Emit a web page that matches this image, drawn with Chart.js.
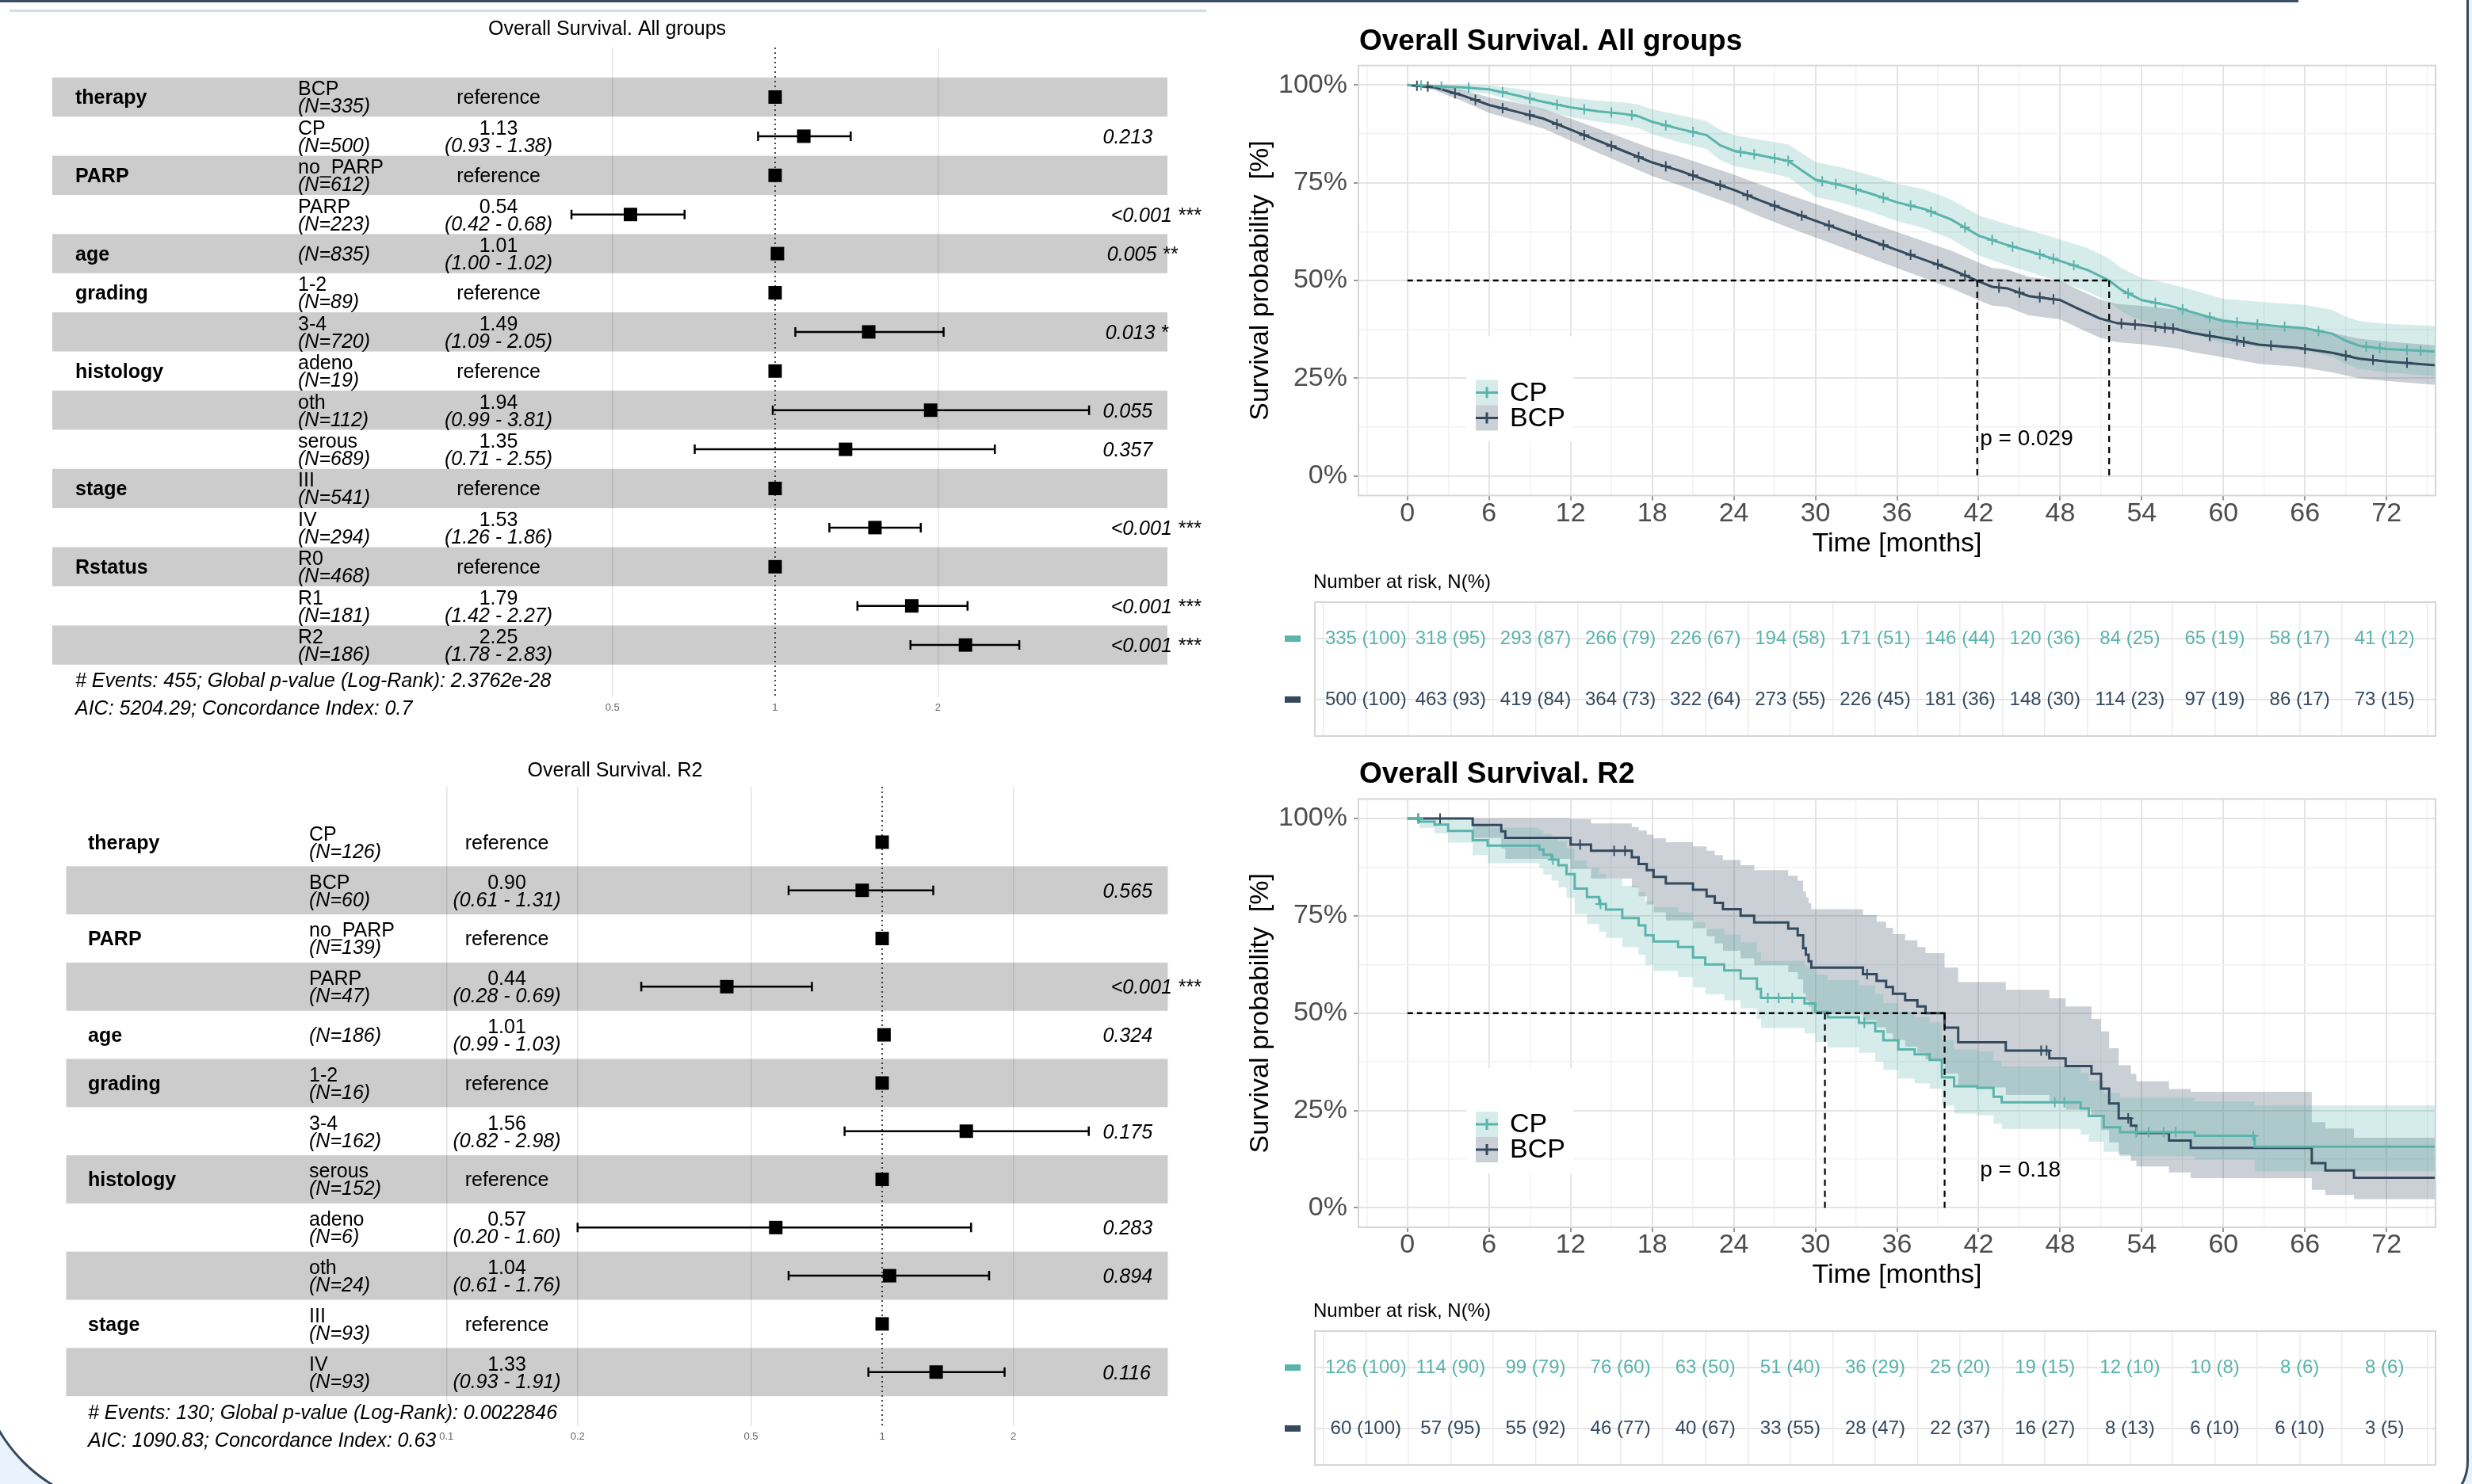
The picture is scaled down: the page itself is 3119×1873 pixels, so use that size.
<!DOCTYPE html>
<html><head><meta charset="utf-8">
<script src="https://cdn.jsdelivr.net/npm/chart.js"></script>
<style>
html,body{margin:0;padding:0;}
body{width:3119px;height:1873px;overflow:hidden;background:#e9f2fa;position:relative;}
#card{position:absolute;left:-30px;top:-10px;width:3145px;height:1915px;box-sizing:border-box;background:#fff;border:3px solid #34495e;border-top:none;border-radius:0 0 60px 200px;}
.topline{position:absolute;left:0;top:0;width:2900px;height:3px;background:#3b4f63;}
.subline{position:absolute;left:12px;top:12px;width:1510px;height:3px;background:#d3deea;}
canvas{position:absolute;}
</style></head>
<body>
<div id="card"></div><div class="topline"></div><div class="subline"></div>
<canvas id="forestAll" width="1540" height="930" style="left:0;top:0"></canvas>
<canvas id="forestR2" width="1540" height="943" style="left:0;top:930px"></canvas>
<canvas id="riskAll" width="1559" height="240" style="left:1560px;top:700px"></canvas>
<canvas id="riskR2" width="1559" height="253" style="left:1560px;top:1620px"></canvas>
<canvas id="kmAll" width="1559" height="720" style="left:1560px;top:0"></canvas>
<canvas id="kmR2" width="1559" height="710" style="left:1560px;top:930px"></canvas>
<script>
// ===================== DATA =====================
// Forest plot: Overall Survival. All groups
const fAllTitle  = 'Overall Survival. All groups';
const fAllVars   = ['therapy','','PARP','','age','grading','','histology','','','stage','','Rstatus','',''];
const fAllLevels = ['BCP','CP','no_PARP','PARP','','1-2','3-4','adeno','oth','serous','III','IV','R0','R1','R2'];
const fAllN      = [335,500,612,223,835,89,720,19,112,689,541,294,468,181,186];
const fAllHR     = [1,1.13,1,0.54,1.01,1,1.49,1,1.94,1.35,1,1.53,1,1.79,2.25];
const fAllLo     = [null,0.93,null,0.42,1.00,null,1.09,null,0.99,0.71,null,1.26,null,1.42,1.78];
const fAllHi     = [null,1.38,null,0.68,1.02,null,2.05,null,3.81,2.55,null,1.86,null,2.27,2.83];
const fAllP      = ['','0.213','','<0.001 ***','0.005 **','','0.013 *','','0.055','0.357','','<0.001 ***','','<0.001 ***','<0.001 ***'];
const fAllTicks  = [0.5,1,2];
const fAllNotes  = ['# Events: 455; Global p-value (Log-Rank): 2.3762e-28','AIC: 5204.29; Concordance Index: 0.7'];

// Forest plot: Overall Survival. R2
const fR2Title  = 'Overall Survival. R2';
const fR2Vars   = ['therapy','','PARP','','age','grading','','histology','','','stage',''];
const fR2Levels = ['CP','BCP','no_PARP','PARP','','1-2','3-4','serous','adeno','oth','III','IV'];
const fR2N      = [126,60,139,47,186,16,162,152,6,24,93,93];
const fR2HR     = [1,0.90,1,0.44,1.01,1,1.56,1,0.57,1.04,1,1.33];
const fR2Lo     = [null,0.61,null,0.28,0.99,null,0.82,null,0.20,0.61,null,0.93];
const fR2Hi     = [null,1.31,null,0.69,1.03,null,2.98,null,1.60,1.76,null,1.91];
const fR2P      = ['','0.565','','<0.001 ***','0.324','','0.175','','0.283','0.894','','0.116'];
const fR2Ticks  = [0.1,0.2,0.5,1,2];
const fR2Notes  = ['# Events: 130; Global p-value (Log-Rank): 0.0022846','AIC: 1090.83; Concordance Index: 0.63'];

// KM: Overall Survival. All groups (time in months, survival in %)
const kmAllTitle = 'Overall Survival. All groups';
const kmAllCP_t  = [0,2,4,6,8,10,12,14,16,17,18,20,22,23,24,26,28,29,30,32,34,36,38,40,42,44,46,48,50,51.6,52.5,54,56,58,60,62,64,66,68,69,70,72,75.6];
const kmAllCP_s  = [100,99.7,99.4,98.9,97.4,95.7,94.3,93.3,92.6,92.0,90.6,88.8,87.2,84.6,83.2,82.0,80.6,78.2,75.8,74.3,72.3,70.0,68.3,65.6,61.5,59.2,57.2,55.0,52.7,50.0,47.6,45.0,43.6,41.6,39.6,39.0,38.3,37.8,36.4,34.6,33.3,32.5,31.8];
const kmAllCP_lo = [100,99.1,98.5,97.7,95.7,93.5,91.8,90.6,89.7,89.0,87.4,85.4,83.6,80.8,79.3,78.0,76.4,73.9,71.4,69.8,67.7,65.2,63.4,60.6,56.4,54.0,51.9,49.6,47.2,44.5,42.1,39.5,38.0,36.0,34.0,33.3,32.5,32.0,30.5,28.7,27.4,26.5,25.6];
const kmAllCP_hi = [100,100,100,99.9,99.1,97.9,96.8,96.0,95.5,95.0,93.8,92.3,90.8,88.5,87.2,86.0,84.8,82.6,80.3,78.9,77.0,74.8,73.3,70.7,66.7,64.5,62.6,60.5,58.3,55.6,53.2,50.6,49.2,47.3,45.3,44.8,44.2,43.8,42.5,40.8,39.6,38.9,38.4];
const kmAllCP_ct = [1.0,2.5,4.5,7.0,9.0,11.0,13.0,15.0,16.5,19.0,21.0,24.5,25.5,27.0,28.0,30.5,31.5,33.0,35.0,37.0,38.5,41.0,43.0,44.5,46.5,47.5,49.0,53.0,55.0,57.0,59.0,61.0,62.5,64.5,67.0,70.5,71.5,73.5,74.5];
const kmAllCP_cs = [99.9,99.6,99.3,98.2,96.6,95.0,93.8,93.0,92.3,89.7,88.0,82.9,82.3,81.3,80.6,75.4,74.7,73.3,71.2,69.2,67.6,63.6,60.4,58.7,56.7,55.6,53.9,46.7,44.3,42.6,40.6,39.3,38.8,38.2,37.1,33.1,32.7,32.2,32.0];
const kmAllBCP_t  = [0,2,3,4,6,8,10,12,14,16,18,20,22,24,26,28,30,32,34,36,38,40,42,43,44.1,45.7,48,49.2,50.9,52.2,54,56.5,57.7,60.6,62.6,65.5,68,70,72,75.6];
const kmAllBCP_s  = [100,99.4,98.4,97.4,94.9,93.2,91.4,88.6,85.8,83.0,80.2,78.1,75.6,73.2,70.4,67.8,65.3,62.8,60.3,57.8,55.3,52.8,49.8,48.4,48.0,46.0,45.0,43.0,40.3,39.1,38.6,37.6,36.6,34.9,33.6,32.8,31.5,30.0,29.3,28.3];
const kmAllBCP_lo = [100,98.7,97.3,96.0,92.9,90.9,88.9,85.8,82.7,79.7,76.7,74.4,71.8,69.3,66.3,63.6,61.0,58.4,55.8,53.2,50.6,48.0,45.0,43.6,43.2,41.1,40.1,38.1,35.4,34.2,33.7,32.7,31.7,30.0,28.7,27.9,26.5,25.0,24.3,23.3];
const kmAllBCP_hi = [100,100,99.5,98.8,96.9,95.5,93.9,91.4,88.9,86.3,83.7,81.8,79.4,77.1,74.5,72.0,69.6,67.2,64.8,62.4,60.0,57.6,54.6,53.2,52.8,50.9,49.9,47.9,45.2,44.0,43.5,42.6,41.6,39.9,38.6,37.8,36.6,35.1,34.4,33.4];
const kmAllBCP_ct = [0.7,1.5,3.5,5.0,7.0,9.0,11.0,13.0,15.0,17.0,19.0,21.0,23.0,25.0,27.0,29.0,31.0,33.0,35.0,37.0,39.0,41.0,43.5,45.0,46.5,47.5,52.5,53.5,55.0,55.7,56.3,59.0,61.0,61.5,63.5,66.0,69.0,71.0,73.5];
const kmAllBCP_cs = [99.8,99.6,97.9,96.2,94.1,92.3,90.0,87.2,84.4,81.6,79.2,76.9,74.4,71.8,69.1,66.6,64.1,61.6,59.1,56.6,54.1,51.3,48.2,46.9,45.7,45.2,39.0,38.7,38.2,37.9,37.7,35.8,34.6,34.3,33.4,32.5,30.8,29.7,29.0];
const kmAllMedians = [51.6, 41.9];
const kmAllPval = 'p = 0.029';

// KM: Overall Survival. R2
const kmR2Title = 'Overall Survival. R2';
const kmR2CP_t  = [0,0.9,2.0,3.0,4.8,5.9,9.7,10.0,10.6,11.1,11.7,12.3,13.2,14.1,14.6,15.8,17.0,17.5,18.1,19.9,21.0,21.9,23.3,24.5,25.7,26.0,29.2,30.0,30.9,33.2,34.4,35.0,36.1,37.3,38.4,39.3,40.2,41.9,43.1,43.7,49.5,50.1,51.2,52.4,57.9,62.3,75.6];
const kmR2CP_s  = [100,99.2,98.4,96.8,94.4,93.0,92.0,90.7,89.4,88.0,85.7,82.0,79.8,78.0,76.6,74.4,72.5,70.0,68.4,67.0,64.3,62.5,61.0,58.9,56.2,53.9,52.5,50.3,48.9,47.5,45.3,43.0,40.7,39.4,38.0,33.5,31.2,30.8,28.5,27.1,25.5,23.6,20.7,19.4,18.5,15.7,15.7];
const kmR2CP_lo = [100,97.6,96.2,93.8,90.6,88.5,87.3,85.6,84.0,82.3,79.6,75.4,72.9,70.9,69.3,67.0,65.0,62.4,60.8,59.3,56.6,54.8,53.3,51.2,48.5,46.2,44.8,42.6,41.2,39.8,37.6,35.4,33.2,32.0,30.6,26.3,24.2,23.8,21.6,20.3,18.8,17.0,14.4,13.2,12.4,9.4,9.4];
const kmR2CP_hi = [100,100,100,99.9,98.4,97.6,97.0,96.0,95.1,94.1,92.3,89.2,87.3,85.8,84.6,82.7,81.0,78.7,77.2,75.9,73.3,71.6,70.2,68.2,65.6,63.4,62.0,59.9,58.5,57.1,54.9,52.6,50.3,49.0,47.6,43.0,40.7,40.2,37.8,36.3,34.6,32.6,29.5,28.2,27.3,26.3,26.3];
const kmR2CP_ct = [0.8,10.7,14.2,26.5,27.3,28.3,33.6,47.6,48.3,53.6,54.5,55.6,56.5,62.2];
const kmR2CP_cs = [100,89.4,78.0,53.9,53.9,53.9,47.5,27.1,27.1,19.4,19.4,19.4,19.4,18.5];
const kmR2BCP_t  = [0,4.8,6.9,7.2,12.0,13.5,16.5,17.0,17.6,18.1,19.0,21.0,22.0,22.6,23.2,24.5,25.5,28.0,28.7,29.1,29.3,29.5,29.7,33.5,34.5,35.2,35.7,36.6,37.5,38.1,39.5,40.5,44.0,47.2,48.4,50.3,51.0,51.6,52.3,53.2,53.6,56.0,57.6,66.5,67.5,69.6,75.6];
const kmR2BCP_s  = [100,98.3,96.7,95.0,93.3,91.7,90.0,88.3,86.7,85.0,83.3,81.7,80.0,78.3,76.7,75.0,73.3,71.7,70.0,66.7,65.0,63.3,61.7,60.0,58.3,56.7,55.0,53.3,51.7,50.0,46.3,42.5,40.4,38.4,36.4,34.4,30.6,26.8,23.0,21.1,19.2,17.3,15.4,11.5,9.6,7.7,7.7];
const kmR2BCP_lo = [100,95.0,92.3,89.6,87.0,84.6,82.3,80.0,77.9,75.9,73.8,71.8,69.8,67.9,66.0,64.1,62.3,60.5,58.7,55.1,53.3,51.6,49.9,48.2,46.4,44.8,43.1,41.4,39.8,38.1,34.5,30.9,29.0,27.1,25.2,23.4,20.0,16.8,13.6,12.1,10.6,9.1,7.6,4.6,3.3,2.2,2.2];
const kmR2BCP_hi = [100,100,100,100,99.8,98.7,97.8,96.9,95.8,94.9,93.9,92.8,91.7,90.6,89.3,88.0,86.7,85.3,84.0,81.2,79.7,78.2,76.7,75.2,73.5,71.9,70.3,68.7,67.0,65.4,61.7,58.0,56.0,53.8,51.7,48.5,45.3,41.0,36.6,34.4,32.5,30.5,29.8,22.0,20.4,18.0,18.0];
const kmR2BCP_ct = [0.8,2.4,12.7,15.2,16.0,33.8,46.6,47.0,53.0];
const kmR2BCP_cs = [100,100,93.3,91.7,91.7,60.0,40.4,40.4,23.0];
const kmR2Medians = [30.7, 39.5];
const kmR2Pval = 'p = 0.18';

// Risk tables (number at risk, percent)
const riskTimes = [0,6,12,18,24,30,36,42,48,54,60,66,72];
const riskAllCP_n   = [335,318,293,266,226,194,171,146,120,84,65,58,41];
const riskAllCP_pct = [100,95,87,79,67,58,51,44,36,25,19,17,12];
const riskAllBCP_n   = [500,463,419,364,322,273,226,181,148,114,97,86,73];
const riskAllBCP_pct = [100,93,84,73,64,55,45,36,30,23,19,17,15];
const riskR2CP_n   = [126,114,99,76,63,51,36,25,19,12,10,8,8];
const riskR2CP_pct = [100,90,79,60,50,40,29,20,15,10,8,6,6];
const riskR2BCP_n   = [60,57,55,46,40,33,28,22,16,8,6,6,3];
const riskR2BCP_pct = [100,95,92,77,67,55,47,37,27,13,10,10,5];

const groupNames = ['CP','BCP'];

// ===================== STYLE =====================
const FONT = '"Liberation Sans", Arial, Helvetica, sans-serif';
const CP_COL = '#5ab4ac', BCP_COL = '#34495e';
const CP_FILL = 'rgba(90,180,172,0.25)', BCP_FILL = 'rgba(52,73,94,0.26)';
Chart.defaults.font.family = FONT;

// ===================== FOREST =====================
function forestPlugin(d, L) {
  return {
    id: 'forest',
    beforeDatasetsDraw(chart) {
      const {ctx, chartArea: a} = chart, xs = chart.scales.x, ys = chart.scales.y;
      const pitch = ys.getPixelForValue(1) - ys.getPixelForValue(0);
      ctx.save();
      ctx.fillStyle = 'rgba(0,0,0,0.2)';
      d.levels.forEach((_, i) => {
        if (i % 2 === L.bandParity) {
          const yc = ys.getPixelForValue(i);
          ctx.fillRect(L.band[0], yc - pitch / 2, L.band[1] - L.band[0], pitch);
        }
      });
      const x1 = xs.getPixelForValue(1);
      ctx.strokeStyle = '#222'; ctx.lineWidth = 1.6; ctx.setLineDash([2, 4]);
      ctx.beginPath(); ctx.moveTo(x1, a.top); ctx.lineTo(x1, a.bottom); ctx.stroke();
      ctx.setLineDash([]);
      ctx.strokeStyle = '#000'; ctx.lineWidth = 2.5;
      d.lo.forEach((lo, i) => {
        if (lo == null) return;
        const yc = ys.getPixelForValue(i), p = xs.getPixelForValue(lo), q = xs.getPixelForValue(d.hi[i]);
        ctx.beginPath();
        ctx.moveTo(p, yc); ctx.lineTo(q, yc);
        ctx.moveTo(p, yc - 6); ctx.lineTo(p, yc + 6);
        ctx.moveTo(q, yc - 6); ctx.lineTo(q, yc + 6);
        ctx.stroke();
      });
      ctx.restore();
    },
    afterDatasetsDraw(chart) {
      const {ctx} = chart, ys = chart.scales.y;
      const off = 2;
      ctx.save();
      ctx.fillStyle = '#000'; ctx.textBaseline = 'middle';
      ctx.font = `25px ${FONT}`; ctx.textAlign = 'center';
      ctx.fillText(d.title, L.title[0], L.title[1]);
      d.levels.forEach((lev, i) => {
        const yc = ys.getPixelForValue(i) + off;
        ctx.textAlign = 'left';
        if (d.vars[i]) { ctx.font = `bold 25px ${FONT}`; ctx.fillText(d.vars[i], L.colX[0], yc); }
        const nTxt = `(N=${d.n[i]})`;
        if (lev) {
          ctx.font = `25px ${FONT}`; ctx.fillText(lev, L.colX[1], yc - 11);
          ctx.font = `italic 25px ${FONT}`; ctx.fillText(nTxt, L.colX[1], yc + 11);
        } else {
          ctx.font = `italic 25px ${FONT}`; ctx.fillText(nTxt, L.colX[1], yc);
        }
        ctx.textAlign = 'center';
        if (d.lo[i] == null) {
          ctx.font = `25px ${FONT}`; ctx.fillText('reference', L.colX[2], yc);
        } else {
          ctx.font = `25px ${FONT}`; ctx.fillText(d.hr[i].toFixed(2), L.colX[2], yc - 11);
          ctx.font = `italic 25px ${FONT}`;
          ctx.fillText(`(${d.lo[i].toFixed(2)} - ${d.hi[i].toFixed(2)})`, L.colX[2], yc + 11);
        }
        if (d.p[i]) {
          ctx.font = `italic 25px ${FONT}`; ctx.textAlign = 'left';
          const w = ctx.measureText(d.p[i]).width;
          ctx.fillText(d.p[i], L.pX + 0.2 * w, yc);
        }
      });
      ctx.font = `italic 25px ${FONT}`; ctx.textAlign = 'left';
      d.notes.forEach((t, k) => ctx.fillText(t, L.foot[0], L.foot[1 + k]));
      ctx.restore();
    }
  };
}

function makeForest(id, d, L) {
  return new Chart(document.getElementById(id), {
    type: 'scatter',
    data: { datasets: [{
      data: d.hr.map((v, i) => ({x: v, y: i})),
      pointStyle: 'rect', pointRadius: 12, pointHoverRadius: 12,
      backgroundColor: '#000', borderWidth: 0
    }]},
    options: {
      responsive: false, animation: false, events: [], devicePixelRatio: 1,
      layout: { padding: { left: L.padL, right: L.padR, top: L.padT, bottom: L.padB } },
      scales: {
        x: {
          type: 'logarithmic', min: L.xMin, max: L.xMax, position: 'bottom',
          afterBuildTicks: s => { s.ticks = d.ticks.map(v => ({value: v})); },
          afterFit: s => { s.height = 30; },
          ticks: { callback: v => String(v), font: {size: 13, family: FONT}, color: '#666', padding: 6, autoSkip: false, maxRotation: 0 },
          grid: { color: c => (c.tick && c.tick.value === 1) ? 'rgba(0,0,0,0)' : '#e4e4e4', lineWidth: 1.5, drawTicks: false },
          border: { display: false }
        },
        y: { type: 'linear', min: L.yMin, max: L.yMax, reverse: true, display: false }
      },
      plugins: { legend: {display: false}, tooltip: {enabled: false} }
    },
    plugins: [forestPlugin(d, L)]
  });
}

makeForest('forestAll',
  {title: fAllTitle, vars: fAllVars, levels: fAllLevels, n: fAllN, hr: fAllHR, lo: fAllLo, hi: fAllHi, p: fAllP, ticks: fAllTicks, notes: fAllNotes},
  {padL: 700, padR: 160, padT: 60, padB: 20, xMin: 0.3912, xMax: 3.886, yMin: -1.2652, yMax: 15.334,
   band: [66, 1473], bandParity: 0, colX: [95, 376, 629], pX: 1379, title: [766, 37], foot: [95, 860, 895]});

makeForest('forestR2',
  {title: fR2Title, vars: fR2Vars, levels: fR2Levels, n: fR2N, hr: fR2HR, lo: fR2Lo, hi: fR2Hi, p: fR2P, ticks: fR2Ticks, notes: fR2Notes},
  {padL: 540, padR: 160, padT: 63, padB: 43, xMin: 0.0907, xMax: 3.0594, yMin: -1.1497, yMax: 12.123,
   band: [83.5, 1473.5], bandParity: 1, colX: [111, 390, 639.5], pX: 1379, title: [776, 43], foot: [111, 854, 889]});

// ===================== KAPLAN-MEIER =====================
const isMajor = (c, step) => c.tick && Math.abs(c.tick.value % step) < 1e-6;

function kmPlugin(d) {
  return {
    id: 'kmDecor',
    afterDatasetsDraw(chart) {
      const {ctx, chartArea: a} = chart, xs = chart.scales.x, ys = chart.scales.y;
      ctx.save();
      const y50 = ys.getPixelForValue(50), y0 = ys.getPixelForValue(0);
      ctx.strokeStyle = '#000'; ctx.lineWidth = 2.6; ctx.setLineDash([7, 5]);
      ctx.beginPath(); ctx.moveTo(xs.getPixelForValue(0), y50); ctx.lineTo(xs.getPixelForValue(Math.max(...d.medians)), y50); ctx.stroke();
      ctx.lineWidth = 2.2; ctx.setLineDash([8, 6]);
      d.medians.forEach(m => { const x = xs.getPixelForValue(m); ctx.beginPath(); ctx.moveTo(x, y50); ctx.lineTo(x, y0); ctx.stroke(); });
      ctx.setLineDash([]);
      ctx.fillStyle = '#000'; ctx.font = `28px ${FONT}`; ctx.textAlign = 'left'; ctx.textBaseline = 'middle';
      ctx.fillText(d.pval, xs.getPixelForValue(42.1), ys.getPixelForValue(9.5));
      // legend
      const lb = a.bottom;
      ctx.fillStyle = '#fff'; ctx.fillRect(a.left + 136, lb - 201, 135, 133);
      d.groups.forEach((g, i) => {
        const top = lb - 146 + i * 32;
        ctx.fillStyle = g.fill; ctx.fillRect(a.left + 148, top, 28, 32);
        ctx.strokeStyle = g.color; ctx.lineWidth = 3;
        ctx.beginPath();
        ctx.moveTo(a.left + 148, top + 16); ctx.lineTo(a.left + 176, top + 16);
        ctx.moveTo(a.left + 162, top + 9); ctx.lineTo(a.left + 162, top + 23);
        ctx.stroke();
        ctx.fillStyle = '#000'; ctx.font = `34px ${FONT}`; ctx.textAlign = 'left';
        ctx.fillText(g.name, a.left + 191, top + 17);
      });
      ctx.restore();
    },
    afterDraw(chart) {
      const {ctx, chartArea: a} = chart;
      ctx.save();
      ctx.strokeStyle = '#d6d6d6'; ctx.lineWidth = 2;
      ctx.strokeRect(a.left, a.top, a.right - a.left, a.bottom - a.top);
      ctx.fillStyle = '#000'; ctx.font = `bold 37px ${FONT}`; ctx.textAlign = 'left'; ctx.textBaseline = 'alphabetic';
      ctx.fillText(d.title, a.left + 1, a.top - 20);
      ctx.font = `34px ${FONT}`; ctx.textAlign = 'center'; ctx.textBaseline = 'middle';
      ctx.fillText('Time [months]', (a.left + a.right) / 2, a.bottom + 61);
      ctx.translate(a.left - 123, (a.top + a.bottom) / 2); ctx.rotate(-Math.PI / 2);
      ctx.fillText('Survival probability  [%]', 0, 0);
      ctx.restore();
    }
  };
}

function makeKM(id, d, L) {
  const ds = [];
  d.groups.forEach(g => {
    ds.push({ data: g.t.map((t, i) => ({x: t, y: g.lo[i]})), borderColor: 'rgba(0,0,0,0)', borderWidth: 1, pointRadius: 0, fill: false, stepped: d.stepped, order: 5 });
    ds.push({ data: g.t.map((t, i) => ({x: t, y: g.hi[i]})), borderColor: 'rgba(0,0,0,0)', borderWidth: 1, pointRadius: 0, fill: '-1', backgroundColor: g.fill, stepped: d.stepped, order: 5 });
  });
  d.groups.forEach(g => {
    ds.push({ data: g.t.map((t, i) => ({x: t, y: g.s[i]})), borderColor: g.color, borderWidth: 3, pointRadius: 0, fill: false, stepped: d.stepped, order: 2 });
    ds.push({ data: g.ct.map((t, i) => ({x: t, y: g.cs[i]})), showLine: false, pointStyle: 'cross', pointRadius: 6.5, pointBorderWidth: 2, borderColor: g.color, pointBorderColor: g.color, order: 1 });
  });
  return new Chart(document.getElementById(id), {
    type: 'line',
    data: { datasets: ds },
    options: {
      responsive: false, animation: false, events: [], devicePixelRatio: 1,
      layout: { padding: { left: 10, right: 46, top: L.padT, bottom: L.padB } },
      scales: {
        x: {
          type: 'linear', min: -3.6, max: 75.6,
          afterFit: s => { s.height = 60; },
          ticks: { stepSize: 3, includeBounds: false, autoSkip: false, maxRotation: 0, minRotation: 0,
                   callback: v => (v >= 0 && v <= 72 && v % 6 === 0) ? String(v) : '',
                   font: {size: 34, family: FONT, lineHeight: 1}, color: '#4d4d4d', padding: 0 },
          grid: { color: c => isMajor(c, 6) ? '#e4e4e4' : '#f1f1f1', lineWidth: c => isMajor(c, 6) ? 2 : 1.4,
                  tickLength: 6, tickWidth: 2, tickColor: c => isMajor(c, 6) ? '#999' : 'rgba(0,0,0,0)' },
          border: { display: false }
        },
        y: {
          type: 'linear', min: -5, max: 105,
          afterFit: s => { s.width = 144; },
          ticks: { stepSize: 12.5, includeBounds: false, autoSkip: false,
                   callback: v => (v % 25 === 0) ? v + '%' : '',
                   font: {size: 34, family: FONT, lineHeight: 1}, color: '#4d4d4d', padding: 8 },
          grid: { color: c => isMajor(c, 25) ? '#e4e4e4' : '#f1f1f1', lineWidth: c => isMajor(c, 25) ? 2 : 1.4,
                  tickLength: 6, tickWidth: 2, tickColor: c => isMajor(c, 25) ? '#999' : 'rgba(0,0,0,0)' },
          border: { display: false }
        }
      },
      plugins: { legend: {display: false}, tooltip: {enabled: false} }
    },
    plugins: [kmPlugin(d)]
  });
}

makeKM('kmAll', {
  title: kmAllTitle, stepped: false, medians: kmAllMedians, pval: kmAllPval,
  groups: [
    {name: groupNames[0], color: CP_COL, fill: CP_FILL, t: kmAllCP_t, s: kmAllCP_s, lo: kmAllCP_lo, hi: kmAllCP_hi, ct: kmAllCP_ct, cs: kmAllCP_cs},
    {name: groupNames[1], color: BCP_COL, fill: BCP_FILL, t: kmAllBCP_t, s: kmAllBCP_s, lo: kmAllBCP_lo, hi: kmAllBCP_hi, ct: kmAllBCP_ct, cs: kmAllBCP_cs}
  ]}, {padT: 82.7, padB: 34.6});

makeKM('kmR2', {
  title: kmR2Title, stepped: 'before', medians: kmR2Medians, pval: kmR2Pval,
  groups: [
    {name: groupNames[0], color: CP_COL, fill: CP_FILL, t: kmR2CP_t, s: kmR2CP_s, lo: kmR2CP_lo, hi: kmR2CP_hi, ct: kmR2CP_ct, cs: kmR2CP_cs},
    {name: groupNames[1], color: BCP_COL, fill: BCP_FILL, t: kmR2BCP_t, s: kmR2BCP_s, lo: kmR2BCP_lo, hi: kmR2BCP_hi, ct: kmR2BCP_ct, cs: kmR2BCP_cs}
  ]}, {padT: 78.4, padB: 31});

// ===================== RISK TABLES =====================
function riskPlugin(rows) {
  return {
    id: 'risk',
    afterDraw(chart) {
      const {ctx, chartArea: a} = chart, xs = chart.scales.x, ys = chart.scales.y;
      ctx.save();
      ctx.strokeStyle = '#d6d6d6'; ctx.lineWidth = 2;
      ctx.strokeRect(a.left, a.top, a.right - a.left, a.bottom - a.top);
      ctx.fillStyle = '#000'; ctx.font = `24px ${FONT}`; ctx.textAlign = 'left'; ctx.textBaseline = 'middle';
      ctx.fillText('Number at risk, N(%)', a.left - 2, a.top - 25);
      rows.forEach(r => {
        const y = ys.getPixelForValue(r.row);
        ctx.fillStyle = r.color;
        ctx.fillRect(a.left - 38, y - 4, 20, 8);
        ctx.font = `24px ${FONT}`; ctx.textAlign = 'center';
        r.n.forEach((n, i) => ctx.fillText(`${n} (${r.pct[i]})`, xs.getPixelForValue(riskTimes[i]), y));
      });
      ctx.restore();
    }
  };
}

function makeRisk(id, rows, padB) {
  return new Chart(document.getElementById(id), {
    type: 'scatter',
    data: { datasets: [] },
    options: {
      responsive: false, animation: false, events: [], devicePixelRatio: 1,
      layout: { padding: { left: 99, right: 46, top: 60, bottom: padB } },
      scales: {
        x: { type: 'linear', min: -3.6, max: 75.6, afterFit: s => { s.height = 0; },
             ticks: { display: false, stepSize: 3, includeBounds: false, autoSkip: false },
             grid: { color: '#ececec', lineWidth: 1.5, drawTicks: false }, border: { display: false } },
        y: { type: 'linear', min: 0.4, max: 2.6, afterFit: s => { s.width = 0; },
             ticks: { display: false, stepSize: 1, includeBounds: false },
             grid: { color: '#e6e6e6', lineWidth: 2, drawTicks: false }, border: { display: false } }
      },
      plugins: { legend: {display: false}, tooltip: {enabled: false} }
    },
    plugins: [riskPlugin(rows)]
  });
}

makeRisk('riskAll', [
  {row: 2, color: CP_COL, n: riskAllCP_n, pct: riskAllCP_pct},
  {row: 1, color: BCP_COL, n: riskAllBCP_n, pct: riskAllBCP_pct}
], 11);
makeRisk('riskR2', [
  {row: 2, color: CP_COL, n: riskR2CP_n, pct: riskR2CP_pct},
  {row: 1, color: BCP_COL, n: riskR2BCP_n, pct: riskR2BCP_pct}
], 24);
</script>
</body></html>
